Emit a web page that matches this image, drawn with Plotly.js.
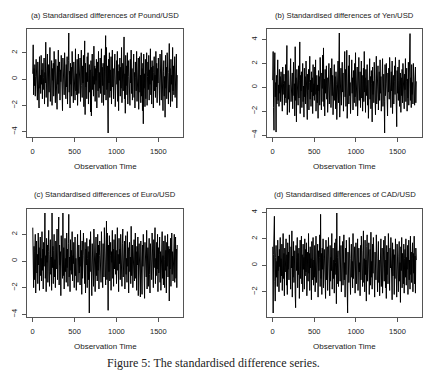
<!DOCTYPE html>
<html>
<head>
<meta charset="utf-8">
<script src="https://cdn.plot.ly/plotly-3.0.1.min.js"></script>
<style>
  html, body { margin: 0; padding: 0; background: #fff; }
  #chart { width: 427px; height: 371px; }
</style>
</head>
<body>
<div id="chart"></div>
<script>
// Standardised differences of four exchange rates against the US dollar,
// recorded at every 5th observation (observation time = 1 + 5 * index).
const obsStep = 5;

const poundUSD = [
  0.4, 2.6, -1.2, 0.8, -0.5, 1.1, -1.3, 0.2, 1.5, -0.9, 0.6, -1.6, 1.3, -0.2, 0.9, -2.2, 1.7, -0.7, 0.3, -1.1,
  1.8, -0.4, 0.7, -1.5, 1.2, -0.8, 0.1, 1.6, -1.9, 0.5, -0.3, 2.8, -1.4, 0.9, -0.6, 1.9, -2.1, 0.4, 1.1, -1.0,
  0.2, 2.4, -1.7, 0.6, -0.9, 1.4, -2.0, 0.8, -0.1, 1.2, -1.3, 2.1, -0.5, 0.3, -1.8, 1.5, -0.7, 0.9, -2.3, 1.0,
  -0.4, 2.2, -1.1, 0.5, 1.3, -1.6, 0.7, -0.2, 1.8, -1.4, 0.4, -2.4, 1.6, -0.3, 0.8, -1.2, 2.0, -0.8, 0.2, -1.5,
  1.1, -0.6, 1.7, -1.9, 0.3, 1.4, 3.5, -1.0, 0.6, -2.2, 1.2, -0.4, 0.9, -1.3, 2.1, -0.7, 0.5, -1.8, 1.3, -0.2,
  0.8, -1.6, 2.3, -0.9, 0.4, -1.2, 1.5, -2.0, 0.7, 1.9, -1.1, 0.2, -0.8, 1.6, -1.7, 0.6, 2.2, -0.5, -1.4, 1.0,
  -0.3, 1.8, -2.1, 0.9, 2.9, -2.7, 1.2, -0.6, 0.5, -1.5, 1.7, -0.2, 2.0, -1.9, 0.3, 1.1, -1.0, 0.7, -2.5, 1.4,
  -2.8, 0.6, 1.9, -0.8, 0.2, -1.3, 2.5, -0.4, 1.0, -1.7, 0.8, -0.1, 1.5, -2.2, 0.4, 1.3, -0.9, 2.1, -1.4, 0.5,
  -0.7, 1.6, -1.1, 0.3, 2.3, -1.8, 0.9, -0.5, 1.2, -2.0, 0.6, 1.8, -1.2, 0.1, 3.3, -1.6, 2.4, -0.8, 1.0, -2.3,
  -4.1, 1.5, -0.3, 2.0, -1.4, 0.7, -0.9, 1.7, -1.9, 0.4, 2.2, -0.6, 0.8, -1.5, 1.3, -0.2, 1.9, -2.1, 0.5, -1.0,
  1.4, -0.4, 2.1, -1.7, 0.6, -2.4, 1.1, -0.1, 1.6, -1.3, 0.9, -0.7, 2.4, -1.8, 0.3, 1.2, -0.9, 0.7, 3.2, -1.5,
  0.4, -2.6, 1.8, -0.5, 1.0, -1.2, 2.0, -1.9, 0.2, 1.4, -0.8, 0.6, -2.0, 1.5, -0.3, 2.2, -1.1, 0.8, -1.6, 1.1,
  -0.6, 1.9, -1.4, 0.5, -2.2, 1.3, 0.1, -0.9, 2.1, -1.7, 0.7, -0.2, 1.6, -2.3, 0.9, 1.7, -1.0, 0.3, -1.8, 2.0,
  -1.3, 0.8, -2.4, 1.2, -3.4, 1.9, -0.7, 0.4, -2.1, 1.5, -1.5, 0.6, 2.0, -2.0, 0.2, 1.3, -0.8, 1.8, -1.6, 0.7,
  -0.4, 2.3, -1.2, 0.9, -1.9, 1.4, -0.1, 1.0, -2.2, 0.5, 1.7, -0.9, 0.3, -1.4, 2.1, -0.6, 1.2, -1.8, 0.8, -0.3,
  1.6, -1.1, 0.4, -2.0, 1.9, -0.5, 0.7, -1.6, 2.2, -0.8, 1.1, -2.4, 0.6, 1.4, -1.3, 0.2, -2.9, 1.8, -0.7, 0.9,
  -1.5, 2.0, -0.2, 1.3, -1.9, 0.5, 2.7, -1.0, 0.8, -2.1, 1.5, -0.4, 0.3, -1.7, 2.4, -0.9, 1.0, -1.2, 0.6, 1.7,
  -1.4, 0.7, -0.6, 1.9, -2.2, 0.3
];

const yenUSD = [
  0.6, 3.0, -1.7, -3.6, 1.2, 2.9, -0.8, 0.4, -3.75, 1.0, -1.4, 0.7, 2.3, -1.1, 0.2, -1.6, 1.5, -0.5, 0.9, -1.2,
  1.3, -0.3, 0.8, -2.0, 1.7, -0.6, 0.3, 1.1, -1.5, 0.5, -0.9, 1.9, -1.3, 0.6, 3.5, -2.3, 0.4, 1.4, -1.0, 0.2,
  -2.1, 1.6, -0.4, 2.4, -1.2, 0.7, -0.1, 1.2, -1.8, 0.9, 2.1, -0.7, 0.3, -2.4, 3.4, -1.1, 0.8, -2.9, 1.5, -0.6,
  0.4, -1.5, 1.8, -0.9, 0.6, 3.8, -2.2, 1.0, -0.3, 1.3, -1.7, 0.5, 2.0, -1.2, 0.1, -2.5, 1.6, -0.8, 0.9, -1.4,
  2.2, -0.5, 0.7, -2.7, 1.1, -0.2, 1.5, -1.9, 0.4, 2.6, -1.0, 0.6, -1.6, 1.3, -0.4, 0.8, -2.2, 1.9, -0.7, 0.3,
  -1.1, 1.7, -0.6, 2.3, -2.0, 0.5, 1.0, -1.3, 0.2, -2.6, 1.4, -0.3, 0.9, -1.5, 2.5, -0.8, 0.6, -1.9, 1.2, -0.1,
  2.7, -1.2, 3.3, -1.6, 0.7, -2.4, 1.5, -0.5, 0.3, 1.8, -1.0, 0.8, -2.1, 1.1, -0.4, 2.0, -1.4, 0.5, -0.9, 1.6,
  -1.7, 0.4, 2.4, -0.7, 1.0, -2.3, 0.6, -0.2, 1.9, -1.1, 0.9, -1.8, 1.3, 0.2, -2.7, 1.4, -0.6, 2.2, -1.3, 0.7,
  4.55, -2.5, 0.8, -0.9, 1.6, -1.5, 0.3, 2.1, -0.4, 1.2, -2.0, 0.5, -1.2, 3.0, -0.8, 1.5, -1.6, 0.9, 3.1, -2.6,
  0.6, -0.3, 1.8, -1.4, 2.7, -0.7, 0.4, -2.2, 1.1, -1.0, 2.3, -0.5, 0.8, -1.9, 1.4, 0.1, -1.3, 2.0, -0.8, 2.9,
  -1.6, 0.7, -0.2, 1.7, -2.4, 0.9, -0.6, 2.5, -1.1, 0.3, 1.3, -1.7, 0.6, 2.2, -0.9, 1.0, -2.0, 0.4, 1.6, -1.2,
  3.0, -0.4, 0.8, -2.1, 1.5, -0.7, 0.2, 1.9, -1.5, 0.6, -2.6, 1.2, -0.3, 2.4, -1.0, 0.9, -1.8, 1.4, 0.3, -2.9,
  1.7, -0.6, 0.5, -1.3, 2.1, -0.9, 1.0, -2.3, 0.7, 2.6, -1.4, 0.4, -0.8, 1.8, -1.9, 0.2, 1.3, -1.1, 2.3, -0.5,
  0.9, -2.0, 1.5, -0.2, 2.4, -1.6, 0.6, 1.1, -1.2, -3.83, 1.9, -0.7, 0.3, 2.0, -1.5, 0.8, -2.4, 1.2, -0.4, 1.6,
  -1.0, 2.5, -0.8, 0.4, -1.7, 1.3, -0.3, 2.2, -2.2, 0.7, 1.0, -1.4, 0.5, 1.8, -0.6, 2.5, -1.9, 0.9, -3.3, 1.4,
  -0.5, 1.7, -1.1, 0.6, 2.3, -1.6, 0.2, 1.2, -2.1, 0.8, -0.7, 1.5, -1.3, 2.0, -0.4, 0.9, -1.8, 1.1, -0.2, 2.4,
  -1.2, 0.5, 1.6, -2.0, 0.7, -0.9, 2.1, -1.5, 0.3, 1.3, 4.5, -1.1, 0.8, -1.7, 1.9, -0.6, 0.4, -1.4, 2.0, -0.8,
  1.2, -1.5, 0.6, 1.7, -1.3, 0.5
];

const euroUSD = [
  2.5, -0.6, -2.0, 1.1, -1.4, 0.7, 2.0, -2.4, 0.3, 1.5, -0.9, 0.5, -1.7, 2.1, -0.3, 1.0, -2.2, 0.8, 1.8, -1.1,
  0.2, -1.5, 2.2, -0.7, 0.9, -2.1, 1.4, -0.4, 0.6, 3.6, -1.3, 0.4, -2.3, 1.7, -0.1, 1.2, -1.6, 0.7, 2.3, -0.8,
  -1.9, 0.5, 1.6, -1.0, 0.3, -2.2, 3.6, -0.5, 1.1, -1.7, 0.8, 2.0, -1.2, 0.1, -2.0, 1.5, -0.6, 0.9, 2.4, -1.4,
  0.6, -0.9, 3.3, -1.8, 1.2, -0.3, 0.7, -2.6, 1.9, -0.4, 0.4, -1.3, 3.6, -1.1, 1.0, -2.1, 0.5, 1.7, -0.8, 0.2,
  -1.6, 2.1, -0.5, 0.9, -1.9, 1.3, 3.5, -1.2, 0.3, -2.3, 1.6, -0.7, 0.8, -1.0, 2.2, -1.5, 0.4, -0.2, 1.4, -2.0,
  0.7, 1.8, -1.1, 0.2, -2.2, 1.0, -0.6, 2.0, -1.6, 0.5, 1.2, -0.9, 0.3, -1.8, 2.3, -0.4, 0.8, -2.5, 1.5, -1.3,
  0.4, 2.1, -1.0, 0.6, -1.7, 1.4, -2.4, 0.9, -0.3, 1.7, -2.0, 0.2, 1.1, -1.4, 0.7, -3.9, 1.6, -0.8, 2.2, -1.2,
  0.5, -2.6, 1.3, -0.2, 0.9, -1.9, 2.4, -0.6, 1.0, -2.3, 0.3, 1.8, -1.1, 0.6, -1.5, 2.0, -0.7, 1.2, -2.1, 0.4,
  1.5, -0.9, 0.2, -1.6, 2.2, -0.4, 0.8, -2.0, 1.3, 0.1, -1.2, 2.5, -0.5, 1.0, -1.8, 0.6, 3.0, -1.4, 2.1, -0.3,
  -3.7, 1.2, -0.8, 1.9, -1.5, 0.4, 1.4, -2.2, 0.7, -0.1, 2.3, -1.3, 0.9, -1.9, 1.6, -0.6, 0.3, 2.0, -1.0, 0.8,
  -1.7, 1.1, 2.5, -0.7, 0.5, -2.3, 1.7, -0.2, 0.9, -1.4, 2.0, -0.9, 0.4, -1.9, 1.3, 2.4, -1.2, 0.6, -0.5, 1.5,
  -2.1, 0.8, 1.9, -1.0, 0.2, -1.6, 2.2, -0.4, 1.0, -2.4, 0.7, 1.4, -0.8, 0.3, -1.7, 2.6, -1.1, 0.5, 1.2, -2.0,
  0.9, -0.6, 1.6, -1.5, 0.4, 2.1, -1.3, 0.7, -2.2, 1.1, -0.3, 1.8, -2.6, 0.6, 1.3, -1.8, 0.2, -2.7, 1.5, -0.9,
  0.8, -2.5, 1.2, -0.4, 2.0, -1.6, 0.5, -2.8, 1.4, -0.7, 0.9, -1.2, 2.3, -2.1, 0.3, 1.0, -1.9, 0.6, 1.7, -1.0,
  -2.4, 1.3, -0.2, 0.8, -1.4, 2.1, -0.8, 0.4, -2.0, 1.6, -0.5, 0.9, 2.5, -1.7, 0.2, -1.1, 1.4, -0.6, 2.0, -2.3,
  1.0, -0.9, 0.5, 1.8, -1.6, 0.7, -2.2, 1.2, -0.3, 2.2, -1.3, 0.4, -1.8, 1.5, 0.1, -2.0, 1.9, -0.7, 0.8, -2.4,
  1.4, -0.4, 2.0, -1.2, 0.6, 1.1, -3.0, 0.9, -0.6, 1.7, -1.9, 0.3, 2.1, -1.0, 0.7, -1.5, 1.3, -0.2, 2.0, -1.6,
  0.5, 1.8, -1.3, 0.9, -2.0, 1.2
];

const cadUSD = [
  1.4, -3.6, 0.8, 2.7, 3.7, -1.2, -2.7, 0.6, 1.5, -0.9, 0.3, -1.6, 1.9, -0.4, 0.7, -2.0, 1.2, -0.1, 2.1, -1.3,
  0.5, -0.8, 1.6, -1.9, 0.2, 2.4, -1.0, 0.9, -2.3, 1.3, -0.5, 0.4, 2.0, -1.5, 0.8, -2.2, 1.7, -0.3, 1.0, -1.1,
  2.3, -0.6, 0.3, -1.8, 1.4, -0.2, 2.6, -2.4, 0.7, -0.9, 1.8, -1.3, 0.5, 1.1, -2.1, -3.2, 1.5, -0.4, 0.6, 2.1,
  -1.7, 0.9, -0.7, 1.3, -2.5, 0.4, 1.9, -1.0, 0.2, 2.2, -1.4, 0.8, -2.0, 1.6, -0.3, 0.6, -1.8, 2.0, -0.8, 1.2,
  -0.5, 1.7, -2.3, 0.3, 1.0, -1.2, 2.4, -0.6, 0.9, -1.9, 1.4, -0.2, 0.5, -2.6, 1.8, -1.1, 0.7, 2.1, -1.5, 0.4,
  -0.9, 1.5, -2.0, 0.8, 2.2, -1.3, 0.2, -0.7, 1.6, -2.4, 1.1, -0.4, 0.6, 2.3, -1.6, 3.85, -1.0, 0.9, -2.2, 1.3,
  -0.3, 2.0, -1.7, 0.5, 1.2, -0.8, 0.3, -2.5, 1.9, -1.1, 0.7, 1.4, -1.9, 0.1, 2.1, -0.6, 0.9, -2.3, 1.5, -1.2,
  0.6, -0.4, 2.4, -1.8, 0.8, 1.3, -1.0, 0.4, -2.1, 1.7, -0.7, 0.2, 2.0, -2.9, 3.95, -1.4, 0.6, 1.1, -1.6, 0.3,
  -0.9, 2.2, -1.2, 0.7, 1.5, -2.0, 0.4, -0.5, 1.8, -1.5, 0.9, 2.3, -1.1, 0.2, -2.4, 1.3, -0.7, 1.9, -1.8, 0.6,
  -3.6, 1.0, 0.4, -1.3, 2.1, -0.6, 1.2, -2.2, 0.5, 1.6, -0.9, 0.3, -1.7, 2.4, -1.0, 0.8, -0.2, 1.4, -2.1, 0.7,
  1.7, -1.4, 0.6, -0.8, 2.0, -1.9, 0.9, 1.3, -0.5, 0.2, -2.3, 1.5, -1.1, 2.2, -0.4, 0.8, -1.6, 1.1, 2.6, -1.3,
  0.5, -2.0, 1.9, -0.7, 0.4, -2.7, 1.4, 2.3, -1.2, 0.9, -0.3, 1.7, -2.2, 0.6, 1.2, -1.5, 2.5, -0.9, 0.3, -1.8,
  1.6, -0.6, 2.1, -1.4, 0.7, -2.4, 1.0, 0.2, -1.1, 2.3, -0.8, 1.4, -2.0, 0.5, 1.8, -1.3, 0.4, -2.3, 1.2, -0.4,
  2.0, -1.6, 0.8, 1.3, -2.1, 0.3, -0.9, 1.9, -1.2, 0.6, 2.2, -1.7, 0.4, -2.5, 1.5, -0.7, 1.0, -1.4, 2.4, -0.5,
  0.9, -1.9, 1.3, -0.2, 2.1, -1.3, 0.6, -2.6, 1.7, -0.8, 0.4, 1.2, -2.2, 0.8, -1.0, 2.0, -1.5, 0.3, -2.4, 1.6,
  -0.6, 1.1, -2.0, 0.7, 1.8, -1.2, 0.2, -2.8, 1.4, -0.4, 2.1, -1.7, 0.9, 0.3, -1.4, 1.6, -2.1, 0.5, 1.2, -0.9,
  2.0, -1.5, 0.6, -0.3, 1.5, -2.2, 0.8, 1.9, -1.1, 0.4, -1.8, 2.2, -0.7, 1.0, -1.3, 0.5, 1.7, -2.0, 0.9, -0.6,
  2.2, -1.4, 0.7, -2.1, 1.3, 0.4
];

const panelTitles = [
  "(a) Standardised differences of Pound/USD",
  "(b) Standardised differences of Yen/USD",
  "(c) Standardised differences of Euro/USD",
  "(d) Standardised differences of CAD/USD"
];
const xTitle = "Observation Time";
const xTickVals = [0, 500, 1000, 1500];
const caption = "Figure 5: The standardised difference series.";

const seriesList = [poundUSD, yenUSD, euroUSD, cadUSD];

// ---- layout geometry (pixels on a 427 x 371 page) ----
const W = 427, H = 371;
const cols = [[27, 183], [267, 422]];
const rows = [[29, 137], [209, 317]];
const px = v => v / W;
const py = v => 1 - v / H;

const sans = "Liberation Sans, Arial, Helvetica, sans-serif";
const axisInk = "#555";

// R-style axis limits: data range padded by 4% on each side
function paddedRange(arr) {
  let lo = Infinity, hi = -Infinity;
  for (const v of arr) { if (v < lo) lo = v; if (v > hi) hi = v; }
  const pad = 0.04 * (hi - lo);
  return [lo - pad, hi + pad];
}

const traces = [];
const layout = {
  width: W, height: H,
  margin: { l: 0, r: 0, t: 0, b: 0 },
  paper_bgcolor: "#fff",
  plot_bgcolor: "#fff",
  showlegend: false,
  annotations: []
};

seriesList.forEach((vals, k) => {
  const r = Math.floor(k / 2), c = k % 2;
  const suffix = k === 0 ? "" : String(k + 1);
  const times = vals.map((_, i) => 1 + i * obsStep);

  traces.push({
    type: "scatter", mode: "lines",
    x: times, y: vals,
    xaxis: "x" + suffix, yaxis: "y" + suffix,
    line: { color: "#000", width: 1.0 },
    hoverinfo: "skip"
  });

  const common = {
    showgrid: false, zeroline: false,
    showline: true, mirror: true, linecolor: axisInk, linewidth: 1,
    ticks: "outside", ticklen: 4, tickwidth: 1, tickcolor: axisInk,
    tickfont: { family: sans, size: 7.5, color: "#222" },
    fixedrange: true
  };

  layout["xaxis" + suffix] = Object.assign({}, common, {
    domain: [px(cols[c][0]), px(cols[c][1])],
    anchor: "y" + suffix,
    range: paddedRange(times),
    tickmode: "array", tickvals: xTickVals,
    ticklabelstandoff: 3
  });
  layout["yaxis" + suffix] = Object.assign({}, common, {
    domain: [py(rows[r][1]), py(rows[r][0])],
    anchor: "x" + suffix,
    range: paddedRange(vals),
    dtick: 2, tick0: 0,
    tickangle: -90,
    ticklabelstandoff: 2
  });

  const cx = px((cols[c][0] + cols[c][1]) / 2);
  layout.annotations.push({
    text: panelTitles[k], xref: "paper", yref: "paper",
    x: cx, y: py(rows[r][0] - 14), xanchor: "center", yanchor: "middle",
    showarrow: false, font: { family: sans, size: 7.7, color: "#222" }
  });
  layout.annotations.push({
    text: xTitle, xref: "paper", yref: "paper",
    x: cx, y: py(rows[r][1] + 29), xanchor: "center", yanchor: "middle",
    showarrow: false, font: { family: sans, size: 8, color: "#222" }
  });
});

layout.annotations.push({
  text: caption, xref: "paper", yref: "paper",
  x: 0.5, y: py(363), xanchor: "center", yanchor: "middle",
  showarrow: false,
  font: { family: "Liberation Serif, DejaVu Serif, serif", size: 12, color: "#222" }
});

Plotly.newPlot("chart", traces, layout, { staticPlot: true, displayModeBar: false });
</script>
</body>
</html>
